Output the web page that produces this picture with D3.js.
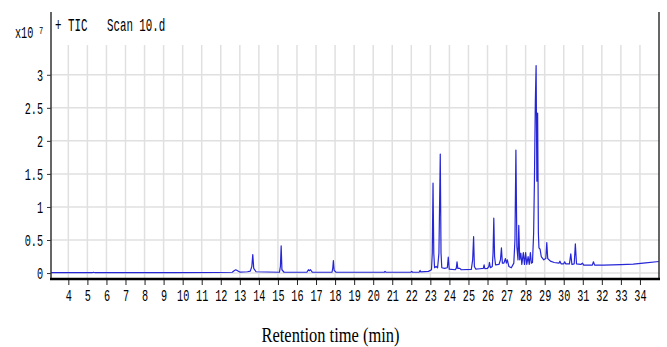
<!DOCTYPE html>
<html>
<head>
<meta charset="utf-8">
<script src="https://cdn.jsdelivr.net/npm/d3@7/dist/d3.min.js"></script>
<style>
  body { margin: 0; background: #fff; }
  svg text { font-family: "Liberation Mono", "DejaVu Sans Mono", monospace; fill: #000; }
</style>
</head>
<body>
<script>
// TIC trace of Scan 10.d
// retention time in minutes, abundance in units of 10^7 counts

var retentionTime = [
  3.09, 5.25, 5.32, 5.4, 9.5, 11.8, 12.6, 12.7, 12.79, 12.88, 13.0, 13.4, 13.55, 13.63, 13.68, 13.73, 13.85,
  15.08, 15.13, 15.17, 15.21, 15.32, 16.52, 16.6, 16.65, 16.71, 16.8, 17.84, 17.88, 17.91, 17.95, 18.05,
  20.58, 20.62, 20.67, 21.98, 22.02, 22.07, 22.42, 22.46, 22.5, 22.9, 23.06, 23.1, 23.14, 23.18, 23.22,
  23.3, 23.38, 23.45, 23.52, 23.56, 23.6, 23.75, 23.89, 23.94, 23.99, 24.3, 24.36, 24.4, 24.44, 24.55, 24.62,
  25.15, 25.22, 25.27, 25.31, 25.38, 25.6, 25.78, 25.82, 25.86, 26.0, 26.07, 26.1, 26.15, 26.25, 26.29,
  26.33, 26.37, 26.42, 26.6, 26.68, 26.73, 26.78, 26.86, 26.94, 26.99, 27.04, 27.12, 27.25, 27.38, 27.44,
  27.49, 27.54, 27.6, 27.64, 27.69, 27.75, 27.8, 27.88, 27.94, 28.0, 28.06, 28.13, 28.19, 28.25, 28.3,
  28.36, 28.42, 28.46, 28.51, 28.55, 28.59, 28.63, 28.67, 28.7, 28.76, 28.82, 28.95, 29.06, 29.11, 29.16,
  29.3, 29.5, 29.75, 29.8, 29.86, 30.0, 30.05, 30.1, 30.3, 30.37, 30.43, 30.55, 30.61, 30.67, 30.9, 30.98,
  31.05, 31.5, 31.56, 31.62, 32.1, 33.0, 33.65, 34.3, 35.0
];

var abundance = [
  0.005, 0.005, 0.012, 0.005, 0.006, 0.008, 0.012, 0.035, 0.05, 0.035, 0.015, 0.02, 0.03, 0.1, 0.28, 0.07, 0.02,
  0.012, 0.1, 0.41, 0.05, 0.012, 0.012, 0.05, 0.035, 0.05, 0.015, 0.012, 0.08, 0.19, 0.04, 0.012,
  0.012, 0.025, 0.012, 0.012, 0.025, 0.012, 0.015, 0.04, 0.018, 0.025, 0.05, 0.3, 1.36, 0.3, 0.08,
  0.1, 0.08, 0.3, 1.80, 0.3, 0.08, 0.07, 0.08, 0.24, 0.06, 0.05, 0.07, 0.17, 0.07, 0.07, 0.05,
  0.055, 0.2, 0.55, 0.1, 0.06, 0.065, 0.07, 0.125, 0.065, 0.07, 0.1, 0.16, 0.08, 0.1, 0.3,
  0.83, 0.25, 0.125, 0.13, 0.2, 0.38, 0.15, 0.15, 0.22, 0.15, 0.2, 0.1, 0.08, 0.15, 0.5,
  1.86, 0.4, 0.2, 0.72, 0.2, 0.3, 0.13, 0.31, 0.13, 0.31, 0.13, 0.25, 0.13, 0.31, 0.15,
  0.16, 0.6, 1.36, 2.6, 3.14, 1.39, 2.42, 0.6, 0.38, 0.36, 0.25, 0.2, 0.22, 0.46, 0.22,
  0.18, 0.16, 0.15, 0.18, 0.14, 0.14, 0.17, 0.14, 0.14, 0.29, 0.13, 0.14, 0.44, 0.14, 0.13, 0.15,
  0.12, 0.12, 0.17, 0.12, 0.12, 0.128, 0.135, 0.155, 0.175
];

var xTicks = [4, 5, 6, 7, 8, 9, 10, 11, 12, 13, 14, 15, 16, 17, 18, 19, 20,
              21, 22, 23, 24, 25, 26, 27, 28, 29, 30, 31, 32, 33, 34];
var yTicks = [0, 0.5, 1, 1.5, 2, 2.5, 3];
var yTickLabels = ["0", "0.5", "1", "1.5", "2", "2.5", "3"];

var width = 667;
var height = 347;
var plotLeft = 51, plotRight = 659, plotTop = 12, plotBottom = 279;
var squeeze = 0.6;   // the original font is tall and narrow

var svg = d3.select("body").append("svg")
    .attr("width", width)
    .attr("height", height);

var x = d3.scaleLinear().domain([3.09, 35.0]).range([plotLeft, plotRight]);
var y = d3.scaleLinear().domain([-0.09, 3.95]).range([plotBottom, plotTop]);

// grid
svg.selectAll("line.vgrid")
    .data(xTicks)
    .enter()
    .append("line")
    .attr("class", "vgrid")
    .attr("x1", function(d) { return x(d); })
    .attr("x2", function(d) { return x(d); })
    .attr("y1", y(3.45))
    .attr("y2", plotBottom)
    .attr("stroke", "#e0e0e0")
    .attr("stroke-width", 1.5);

svg.selectAll("line.hgrid")
    .data(yTicks)
    .enter()
    .append("line")
    .attr("class", "hgrid")
    .attr("x1", plotLeft)
    .attr("x2", plotRight)
    .attr("y1", function(d) { return y(d); })
    .attr("y2", function(d) { return y(d); })
    .attr("stroke", "#e0e0e0")
    .attr("stroke-width", 1.5);

// trace
var points = retentionTime.map(function(t, i) { return [t, abundance[i]]; });

var line = d3.line()
    .x(function(d) { return x(d[0]); })
    .y(function(d) { return y(d[1]); });

svg.append("path")
    .datum(points)
    .attr("d", line)
    .attr("fill", "none")
    .attr("stroke", "#2626d6")
    .attr("stroke-width", 1.2)
    .attr("stroke-linejoin", "round");

// axes
var yAxis = svg.append("g")
    .attr("transform", "translate(" + plotLeft + ",0)")
    .call(d3.axisLeft(y)
      .tickValues(yTicks)
      .tickFormat(function(d, i) { return yTickLabels[i]; })
      .tickSize(4));
yAxis.attr("font-size", null).attr("font-family", null);
yAxis.select(".domain").remove();
yAxis.selectAll(".tick line").attr("stroke", "#333");
yAxis.selectAll(".tick text")
    .style("font-size", "17px")
    .attr("x", -8 / squeeze)
    .attr("transform", "scale(" + squeeze + ",1)");

var xAxis = svg.append("g")
    .attr("transform", "translate(0," + plotBottom + ")")
    .call(d3.axisBottom(x)
      .tickValues(xTicks)
      .tickFormat(d3.format("d"))
      .tickSize(6)
      .tickPadding(4));
xAxis.attr("font-size", null).attr("font-family", null);
xAxis.select(".domain").remove();
xAxis.selectAll(".tick line").attr("stroke", "#222");
xAxis.selectAll(".tick text")
    .style("font-size", "17px")
    .attr("transform", "scale(" + squeeze + ",1)");

// frame
svg.append("line")
    .attr("x1", plotLeft).attr("x2", plotLeft)
    .attr("y1", plotTop).attr("y2", plotBottom + 1)
    .attr("stroke", "#333").attr("stroke-width", 1.5);
svg.append("line")
    .attr("x1", plotRight).attr("x2", plotRight)
    .attr("y1", plotTop).attr("y2", plotBottom + 1)
    .attr("stroke", "#333").attr("stroke-width", 1.5);
svg.append("line")
    .attr("x1", plotLeft - 1).attr("x2", plotRight + 1)
    .attr("y1", plotBottom).attr("y2", plotBottom)
    .attr("stroke", "#000").attr("stroke-width", 2.5);

// headers
svg.append("text")
    .attr("transform", "translate(15,37.5) scale(" + squeeze + ",1)")
    .style("font-size", "17px")
    .text("x10");
svg.append("text")
    .attr("transform", "translate(39,33.5) scale(0.7,1)")
    .style("font-size", "10px")
    .text("7");
svg.append("text")
    .attr("transform", "translate(55,31) scale(" + squeeze + ",1)")
    .style("font-size", "18px")
    .text("+ TIC");
svg.append("text")
    .attr("transform", "translate(107,31) scale(" + squeeze + ",1)")
    .style("font-size", "18px")
    .text("Scan 10.d");

svg.append("text")
    .attr("x", 261.5)
    .attr("y", 342)
    .style("font-size", "20px")
    .style("font-family", "'Liberation Serif', 'Times New Roman', serif")
    .attr("textLength", 138)
    .attr("lengthAdjust", "spacingAndGlyphs")
    .text("Retention time (min)");
</script>
</body>
</html>
